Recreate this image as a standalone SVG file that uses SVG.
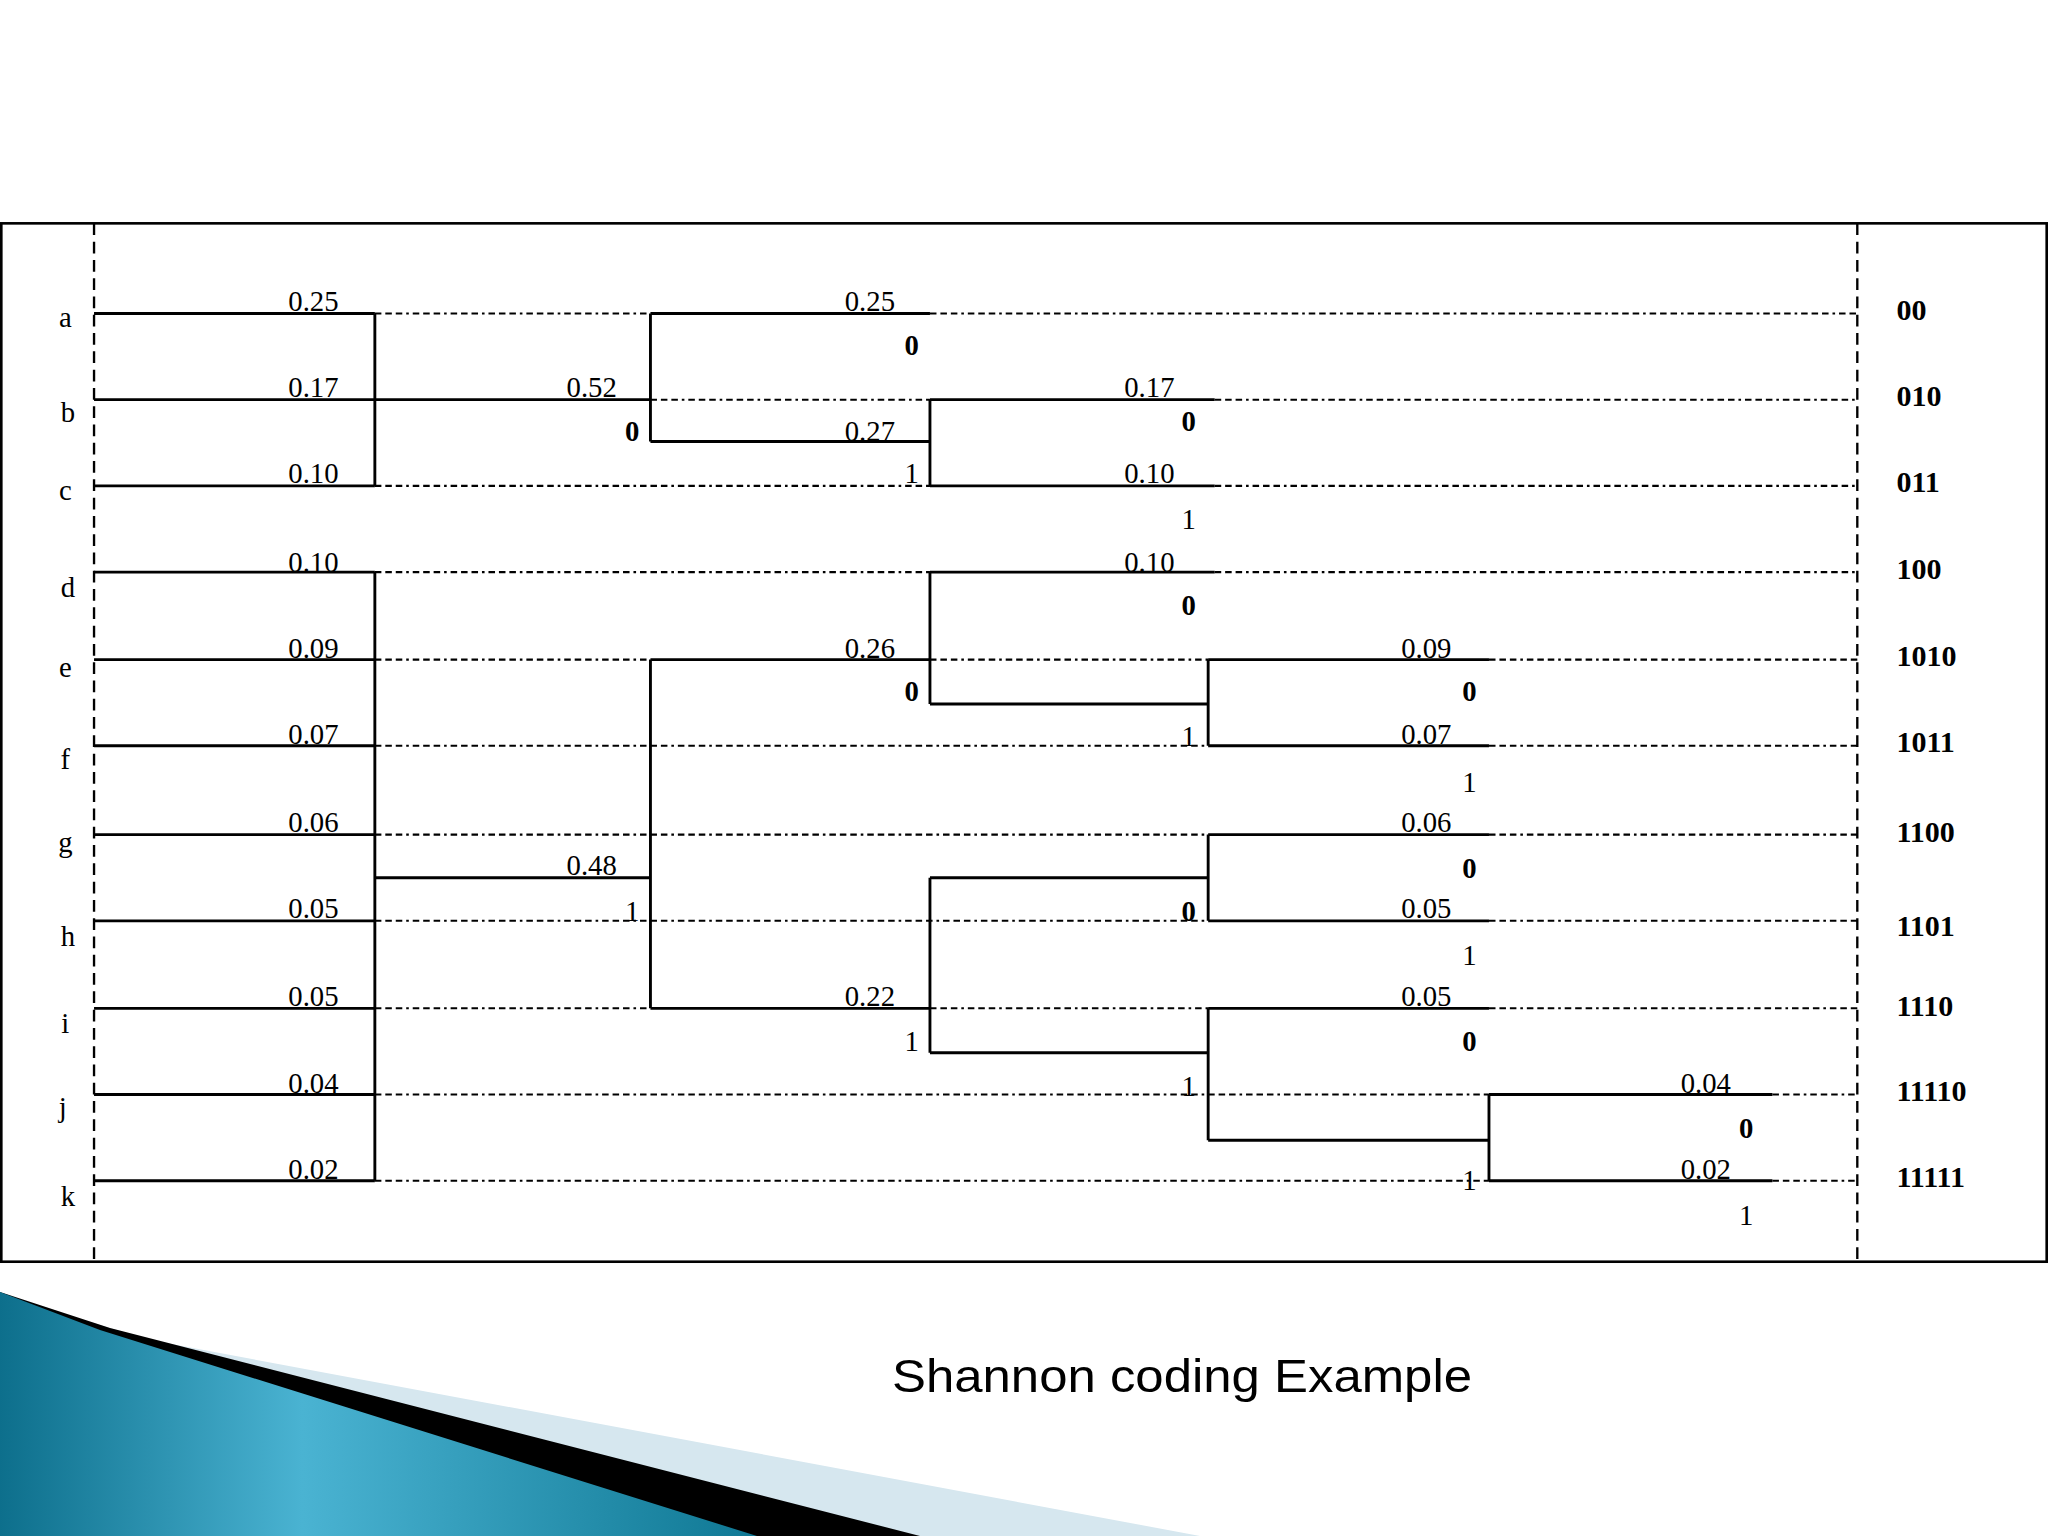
<svg xmlns="http://www.w3.org/2000/svg" width="2048" height="1536" viewBox="0 0 2048 1536">
<defs>
<style>
.s{stroke:#000;stroke-width:2.2;fill:none}
.d{stroke:#000;stroke-width:1.6;fill:none;stroke-dasharray:5 3 5 3 5 3 2 3}
.v{stroke:#000;stroke-width:1.8;fill:none;stroke-dasharray:9 5}
text{font-family:"Liberation Serif",serif;fill:#000}
.p{font-size:22px;text-anchor:middle}
.b{font-size:22px;font-weight:bold;text-anchor:middle}
.n{font-size:22px;text-anchor:middle}
.c{font-size:23px;font-weight:bold}
.l{font-size:22px;text-anchor:middle}
</style>
<linearGradient id="tg" x1="0" y1="0" x2="1" y2="0">
<stop offset="0" stop-color="#0d6f8c"/><stop offset="0.4" stop-color="#4ab3d2"/><stop offset="1" stop-color="#0f7894"/>
</linearGradient>
</defs>
<rect width="2048" height="1536" fill="#fff"/>
<g id="swoosh">
<path d="M0,1295 L150,1340 L1200,1536 L0,1536 Z" fill="#d6e7ef"/>
<path d="M0,1292 L110,1328 L920,1536 L0,1536 Z" fill="#000"/>
<path d="M0,1292 L100,1330 L757,1536 L0,1536 Z" fill="url(#tg)"/>
</g>
<text x="1182" y="1392" style="font-family:'Liberation Sans',Arial,sans-serif;font-size:46px" text-anchor="middle" textLength="580" lengthAdjust="spacingAndGlyphs">Shannon coding Example</text>
<g transform="scale(1.30612)">
<g id="frame">
<rect x="1" y="171" width="1566" height="795" fill="none" stroke="#000" stroke-width="2"/>
<line class="v" x1="72" y1="171" x2="72" y2="966"/>
<line class="v" x1="1422" y1="171" x2="1422" y2="966"/>
</g>
<g id="connectors">
<path class="d" d="M287,240H498 M712,240H1422 M498,306H712 M930,306H1422 M287,372H712 M930,372H1422 M287,438H712 M930,438H1422 M287,505H498 M712,505H925 M1140,505H1422 M287,571H925 M1140,571H1422 M287,639H925 M1140,639H1422 M287,705H925 M1140,705H1422 M287,772H498 M712,772H925 M1140,772H1422 M287,838H1140 M1357,838H1422 M287,904H1140 M1357,904H1422"/>
<path class="s" d="M72,240H287 M72,306H498 M72,372H287 M287,240V372"/>
<path class="s" d="M72,438H287 M72,505H287 M72,571H287 M72,639H287 M72,705H287 M72,772H287 M72,838H287 M72,904H287 M287,438V904 M287,672H498"/>
<path class="s" d="M498,240V338 M498,240H712 M498,338H712"/>
<path class="s" d="M498,505V772 M498,505H712 M498,772H712"/>
<path class="s" d="M712,306V372 M712,306H930 M712,372H930"/>
<path class="s" d="M712,438V539 M712,438H930 M712,539H925"/>
<path class="s" d="M712,672V806 M712,672H925 M712,806H925"/>
<path class="s" d="M925,505V571 M925,505H1140 M925,571H1140"/>
<path class="s" d="M925,639V705 M925,639H1140 M925,705H1140"/>
<path class="s" d="M925,772V873 M925,772H1140 M925,873H1140"/>
<path class="s" d="M1140,838V904 M1140,838H1357 M1140,904H1357"/>
</g>
<g id="symbols">
<text class="l" x="50" y="250">a</text><text class="l" x="52" y="323">b</text><text class="l" x="50" y="383">c</text>
<text class="l" x="52" y="457">d</text><text class="l" x="50" y="518">e</text><text class="l" x="50" y="589">f</text>
<text class="l" x="50" y="652">g</text><text class="l" x="52" y="724">h</text><text class="l" x="50" y="791">i</text>
<text class="l" x="48" y="855">j</text><text class="l" x="52" y="923">k</text>
</g>
<g id="probabilities">
<text class="p" x="240" y="238">0.25</text><text class="p" x="240" y="304">0.17</text><text class="p" x="240" y="370">0.10</text>
<text class="p" x="240" y="438">0.10</text><text class="p" x="240" y="504">0.09</text><text class="p" x="240" y="570">0.07</text>
<text class="p" x="240" y="637">0.06</text><text class="p" x="240" y="703">0.05</text><text class="p" x="240" y="770">0.05</text>
<text class="p" x="240" y="837">0.04</text><text class="p" x="240" y="903">0.02</text>
<text class="p" x="453" y="304">0.52</text><text class="p" x="453" y="670">0.48</text>
<text class="p" x="666" y="238">0.25</text><text class="p" x="666" y="338">0.27</text>
<text class="p" x="666" y="504">0.26</text><text class="p" x="666" y="770">0.22</text>
<text class="p" x="880" y="304">0.17</text><text class="p" x="880" y="370">0.10</text><text class="p" x="880" y="438">0.10</text>
<text class="p" x="1092" y="504">0.09</text><text class="p" x="1092" y="570">0.07</text><text class="p" x="1092" y="637">0.06</text>
<text class="p" x="1092" y="703">0.05</text><text class="p" x="1092" y="770">0.05</text>
<text class="p" x="1306" y="837">0.04</text><text class="p" x="1306" y="903">0.02</text>
</g>
<g id="bits">
<text class="b" x="484" y="338">0</text><text class="n" x="484" y="705">1</text>
<text class="b" x="698" y="272">0</text><text class="n" x="698" y="370">1</text>
<text class="b" x="698" y="537">0</text><text class="n" x="698" y="805">1</text>
<text class="b" x="910" y="330">0</text><text class="n" x="910" y="405">1</text>
<text class="b" x="910" y="471">0</text><text class="n" x="910" y="571">1</text>
<text class="b" x="910" y="705">0</text><text class="n" x="910" y="839">1</text>
<text class="b" x="1125" y="537">0</text><text class="n" x="1125" y="606">1</text>
<text class="b" x="1125" y="672">0</text><text class="n" x="1125" y="739">1</text>
<text class="b" x="1125" y="805">0</text><text class="n" x="1125" y="911">1</text>
<text class="b" x="1337" y="871">0</text><text class="n" x="1337" y="938">1</text>
</g>
<g id="codes">
<text class="c" x="1452" y="245">00</text><text class="c" x="1452" y="311">010</text><text class="c" x="1452" y="377">011</text>
<text class="c" x="1452" y="443">100</text><text class="c" x="1452" y="510">1010</text><text class="c" x="1452" y="576">1011</text>
<text class="c" x="1452" y="645">1100</text><text class="c" x="1452" y="717">1101</text><text class="c" x="1452" y="778">1110</text>
<text class="c" x="1452" y="843">11110</text><text class="c" x="1452" y="909">11111</text>
</g>
</g>
</svg>
